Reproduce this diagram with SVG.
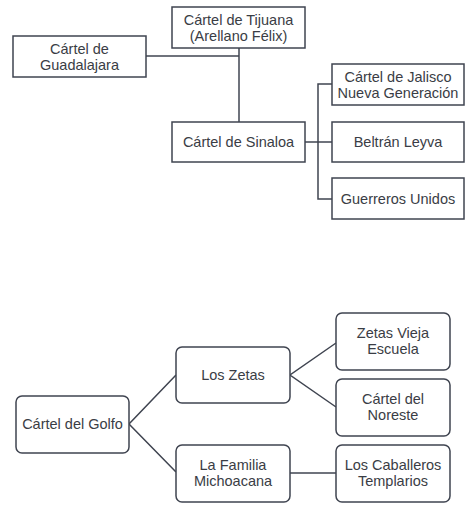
<svg xmlns="http://www.w3.org/2000/svg" width="474" height="517" viewBox="0 0 474 517">
<style>
.box{fill:#fff;stroke:#3f4450;stroke-width:1.5}
.t{font-family:"Liberation Sans",Arial,sans-serif;font-size:14.5px;fill:#3a3d45;text-anchor:middle}
.c{fill:none;stroke:#3f4450;stroke-width:1.5}
</style>
<rect width="474" height="517" fill="#fff"/>
<g id="connectors">
<polyline class="c" points="146,56 239,56"/>
<polyline class="c" points="239,48 239,122"/>
<polyline class="c" points="305,142 332,142"/>
<polyline class="c" points="332,84 318,84 318,199 332,199"/>
<polyline class="c" points="176,375 129,424 176,472"/>
<polyline class="c" points="336,343 290,375 336,407"/>
<polyline class="c" points="290,473 336,473"/>
</g>
<g id="tijuana"><rect class="box" x="172" y="7" width="133" height="41"/><text class="t" x="238.5" y="25">Cártel de Tijuana</text><text class="t" x="238.5" y="41">(Arellano Félix)</text></g>
<g id="guadalajara"><rect class="box" x="13" y="36" width="133" height="41"/><text class="t" x="79.5" y="54">Cártel de</text><text class="t" x="79.5" y="70">Guadalajara</text></g>
<g id="sinaloa"><rect class="box" x="172" y="122" width="133" height="40"/><text class="t" x="238.5" y="147">Cártel de Sinaloa</text></g>
<g id="jalisco"><rect class="box" x="332" y="64" width="132" height="41"/><text class="t" x="398" y="82">Cártel de Jalisco</text><text class="t" x="398" y="98">Nueva Generación</text></g>
<g id="beltran"><rect class="box" x="332" y="122" width="132" height="40"/><text class="t" x="398" y="147">Beltrán Leyva</text></g>
<g id="guerreros"><rect class="box" x="332" y="178" width="132" height="41"/><text class="t" x="398" y="204">Guerreros Unidos</text></g>
<g id="golfo"><rect class="box" x="16" y="396" width="113" height="57" rx="6"/><text class="t" x="72.5" y="429">Cártel del Golfo</text></g>
<g id="zetas"><rect class="box" x="176" y="347" width="114" height="56" rx="6"/><text class="t" x="233" y="380">Los Zetas</text></g>
<g id="familia"><rect class="box" x="176" y="445" width="114" height="57" rx="6"/><text class="t" x="233" y="470">La Familia</text><text class="t" x="233" y="486">Michoacana</text></g>
<g id="vieja"><rect class="box" x="336" y="313" width="114" height="57" rx="6"/><text class="t" x="393" y="338">Zetas Vieja</text><text class="t" x="393" y="354">Escuela</text></g>
<g id="noreste"><rect class="box" x="336" y="379" width="114" height="57" rx="6"/><text class="t" x="393" y="404">Cártel del</text><text class="t" x="393" y="420">Noreste</text></g>
<g id="caballeros"><rect class="box" x="336" y="445" width="114" height="57" rx="6"/><text class="t" x="393" y="470">Los Caballeros</text><text class="t" x="393" y="486">Templarios</text></g>
</svg>
